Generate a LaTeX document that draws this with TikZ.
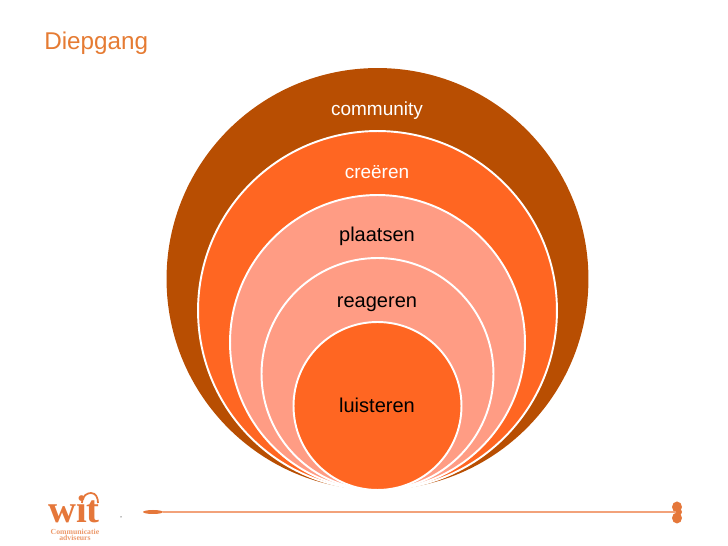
\documentclass[tikz,border=0pt]{standalone}
\usepackage{fontspec}
\setmainfont{Liberation Sans}
\newfontfamily\logofont{Liberation Serif}
\usetikzlibrary{arrows.meta, positioning, shapes.geometric}
\definecolor{titleorange}{HTML}{E57B33}
\definecolor{community}{HTML}{B84E02}
\definecolor{creeren}{HTML}{FF6622}
\definecolor{plaatsen}{HTML}{FF9C84}
\definecolor{rule}{HTML}{F2A27A}
\definecolor{logo}{HTML}{E5773A}

\begin{document}
\begin{tikzpicture}[
    x=0.02cm, y=-0.02cm,
    ring/.style={circle, draw=white, line width=1.1pt, fill=#1, inner sep=0pt},
    whitelabel/.style={font=\fontsize{10.8pt}{12pt}\selectfont, text=white, anchor=base},
    blacklabel/.style={font=\fontsize{11.4pt}{13pt}\selectfont, text=black, anchor=base},
    blob/.style={ellipse, fill=logo, inner sep=0pt},
    logotext/.style={font=\logofont\bfseries\fontsize{4.4pt}{5pt}\selectfont, text=logo!75, anchor=base, inner sep=0pt},
]
\useasboundingbox (0,0) rectangle (728,546);

% Title
\node[font=\fontsize{13.8pt}{16pt}\selectfont, text=titleorange, anchor=base west, inner sep=0pt] (title) at (44,50) {Diepgang};

% --- Circles ---
\node[ring=community, draw=none, minimum size=8.44cm] (c1) at (377.5,279) {};
\node[ring=creeren, minimum size=7.18cm] (c2) at (377.5,310.5) {};
\node[ring=plaatsen, minimum size=5.9cm] (c3) at (377.5,342.5) {};
\node[ring=plaatsen, minimum size=4.64cm] (c4) at (377.5,374) {};
\node[ring=creeren, minimum size=3.36cm] (c5) at (377.5,406) {};

% --- Labels ---
\node[whitelabel] (t1) at (377,116) {community};
\node[whitelabel] (t2) at (377,179) {creëren};
\node[blacklabel] (t3) at (377,242) {plaatsen};
\node[blacklabel] (t4) at (377,308) {reageren};
\node[blacklabel] (t5) at (377,413) {luisteren};

% --- Footer rule ---
\node[blob, minimum width=0.4cm, minimum height=0.08cm] (start) at (153,512) {};
\node[blob, minimum width=0.2cm, minimum height=0.22cm] (end1) at (677,507) {};
\node[blob, minimum width=0.2cm, minimum height=0.22cm] (end2) at (677,518) {};
\node[blob, minimum width=0.12cm, minimum height=0.12cm] (endmid) at (679,512) {};
\draw[rule, line width=0.8pt] (start) -- (endmid);
\node[circle, fill=gray, inner sep=0pt, minimum size=0.03cm] (speck) at (121,517) {};

% --- Logo ---
\node[font=\logofont\bfseries\fontsize{22pt}{22pt}\selectfont, text=logo, anchor=base, inner sep=0pt] (wit) at (74,523) {wit};
\draw[logo, line width=1pt] (82,503) .. controls (82,495) and (88,493) .. (91,493) .. controls (96,493) and (98,498) .. (98,503);
\node[logotext] (comm) at (75,534.5) {Communicatie};
\node[logotext] (adv) at (75,541) {adviseurs};

\end{tikzpicture}
\end{document}
